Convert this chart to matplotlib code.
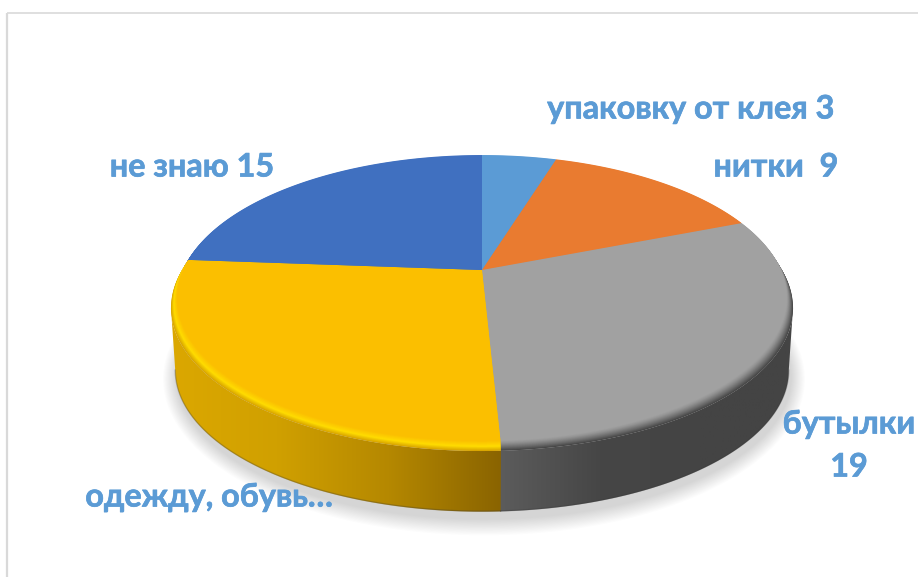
"""Perspective pie with bevel, side wall and soft shadow."""
import matplotlib
matplotlib.use('Agg')
import matplotlib.pyplot as plt
import matplotlib.patheffects as pe
from matplotlib.colors import LinearSegmentedColormap, to_rgb
from matplotlib.patches import Polygon
import numpy as np

categories = ['упаковку от клея', 'нитки', 'бутылки', 'одежду, обувь', 'не знаю']
values = [3, 9, 19, 17, 15]

FACE = ['#5B9BD5', '#E97B30', '#A1A1A1', '#FBBF00', '#4070C0']
RIM = ['#5B9BD5', '#E97B30', '#444444', '#D8A400', '#4070C0']
HILITE = ['#5B9BD5', '#E97B30', '#A1A1A1', '#FFDC00', '#4070C0']
LABEL = '#5B9BD5'
FRAME = '#D9D9D9'
FONT = ['Lato', 'Open Sans', 'DejaVu Sans']

W, H = 918, 577
CX, CY = 482, 270
A, B, K = 305, 137.5, 0.196
BEVEL = 10
DEPTH = 73
INSET = 0.02

fig = plt.figure(figsize=(W / 100, H / 100), dpi=100)
ax = fig.add_axes([0, 0, 1, 1])


def project(t, d=0.0, inset=0.0):
    # t in degrees clockwise from top, d = drop in px below the top face
    t = np.radians(t)
    u, v = np.sin(t), np.cos(t)
    w = 1 + K * v
    s = 1 - 0.016 * max(d - BEVEL, 0) / DEPTH
    return CX + s * (1 - inset) * A * u / w, CY + d - s * B * v / w


def arc(t0, t1, d=0.0, inset=0.0):
    t = np.linspace(t0, t1, max(int(abs(t1 - t0)), 2) * 2)
    return np.column_stack(project(t, d, inset))


def mix(c0, c1, f):
    return tuple((1 - f) * a + f * b for a, b in zip(to_rgb(c0), to_rgb(c1)))


edges = np.concatenate([[0], np.cumsum(values)]) / sum(values) * 360
# silhouette of the disc is widest at these angles, the wall stops there
t_wide = np.degrees(np.arccos(-K))

# soft shadow
for i in range(14):
    grow = 14 - i
    t = np.linspace(0, 360, 361)
    x, y = project(t, DEPTH + 3)
    x = CX + 2 + (x - CX) * (1 + grow / 300)
    y = y.mean() + 4 + (y - y.mean()) * (1 + grow / 130)
    ax.fill(x, y, color='#808080', alpha=0.022, lw=0)

# side wall, only the two front slices show it
side_maps = {
    2: (['#5C5C5C', '#464646', '#444444', '#444444'], 500, 800),
    3: (['#DCA800', '#D0A000', '#B58800', '#8A6400'], 165, 501),
}
for i, (cols, x0, x1) in side_maps.items():
    t_start = max(edges[i], t_wide)
    t_end = min(edges[i + 1] + (1 if i == 2 else 0), 360 - t_wide)
    poly = np.vstack([arc(t_start, t_end, BEVEL),
                      arc(t_end, t_start, DEPTH)])
    patch = Polygon(poly, closed=True, fc='none', ec='none')
    ax.add_patch(patch)
    cmap = LinearSegmentedColormap.from_list('side', cols)
    im = ax.imshow(np.linspace(0, 1, 256)[None, :], cmap=cmap, aspect='auto',
                   extent=(x0, x1, 530, 200), zorder=2)
    im.set_clip_path(patch)
    # dark line along the lower edge
    ax.plot(*arc(t_start, min(t_end, edges[i + 1]), DEPTH - 0.5).T,
            color='#3A3A3A', lw=1, alpha=0.3, zorder=2.5)

# bevel layers from the rim up to the flat top
for d in np.arange(BEVEL, -0.25, -0.5):
    f = d / BEVEL
    for i in range(len(values)):
        if f > 0.55:
            c = mix(HILITE[i], RIM[i], (f - 0.55) / 0.45)
        else:
            c = mix(FACE[i], HILITE[i], f / 0.55)
        if i == 2:
            c = mix(FACE[i], RIM[i], f ** 1.3)
        inset = INSET * (1 - f)
        poly = np.vstack([[CX, CY + d], arc(edges[i], edges[i + 1], d, inset)])
        ax.add_patch(Polygon(poly, closed=True, fc=c, ec='none', zorder=3))

# frame
ax.plot([7, 7], [H, 12.5], color=FRAME, lw=1.6, zorder=1, solid_capstyle='butt')
ax.plot([7, W], [12.5, 12.5], color=FRAME, lw=1.2, zorder=1, solid_capstyle='butt')

# labels
lab = dict(color=LABEL, fontsize=23.3, fontweight='bold', family=FONT,
           ha='center', va='center', zorder=5,
           path_effects=[pe.withStroke(linewidth=0.5, foreground=LABEL)])
ax.text(691, 109, f'{categories[0]} {values[0]}', **lab)
ax.text(776, 167, f'{categories[1]}  {values[1]}', **lab)
ax.text(849, 424, categories[2], **lab)
ax.text(849, 467, str(values[2]), **lab)
ax.text(209, 497, f'{categories[3]}…', **lab)
ax.text(192, 167, f'{categories[4]} {values[4]}', **lab)

ax.set_xlim(0, W)
ax.set_ylim(H, 0)
ax.axis('off')
fig.savefig('out.png', dpi=100, facecolor='white')
plt.close(fig)
